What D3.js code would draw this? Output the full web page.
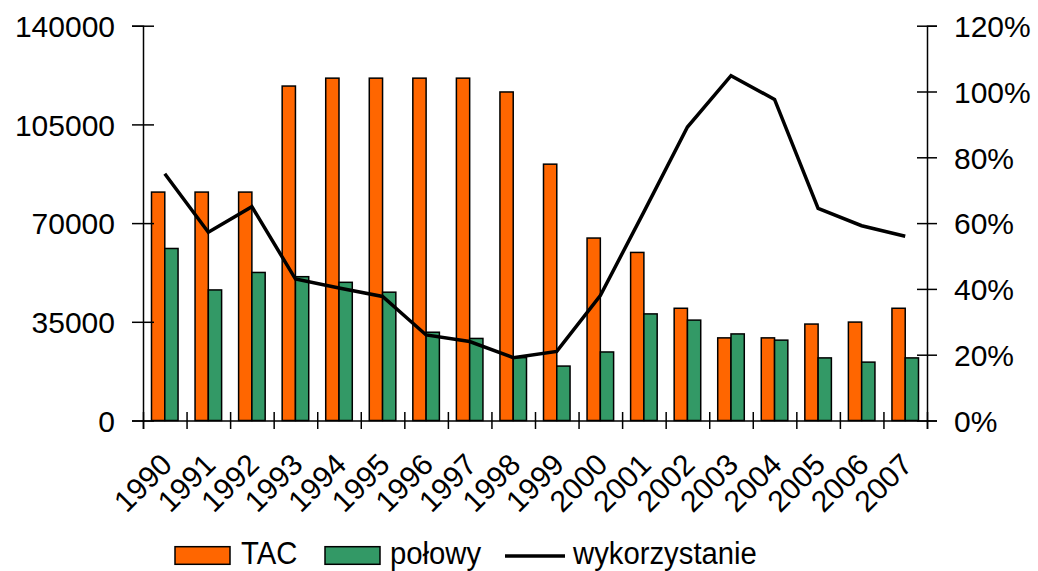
<!DOCTYPE html>
<html>
<head>
<meta charset="utf-8">
<script src="https://cdn.jsdelivr.net/npm/d3@7"></script>
<style>
  html, body { margin: 0; padding: 0; background: #fff; }
  svg { display: block; font-family: "Liberation Sans", Arial, sans-serif; }
</style>
</head>
<body>
<svg id="chart" width="1038" height="571"></svg>
<script>
// Years on the category axis
const years = ["1990","1991","1992","1993","1994","1995","1996","1997","1998",
               "1999","2000","2001","2002","2003","2004","2005","2006","2007"];
// Total allowable catch (t)
const tac = [81000, 81000, 81000, 118600, 121400, 121400, 121400, 121400, 116500,
             90900, 64700, 59600, 39800, 29300, 29300, 34200, 34900, 39800];
// Catches (t)
const polowy = [61000, 46300, 52500, 51000, 49000, 45500, 31300, 29100, 22300,
                19300, 24300, 37800, 35600, 30700, 28500, 22200, 20700, 22200];
// Utilisation of the TAC (share)
const wykorzystanie = [0.750, 0.572, 0.650, 0.430, 0.403, 0.377, 0.260, 0.240, 0.191,
                       0.210, 0.380, 0.634, 0.892, 1.048, 0.976, 0.645, 0.592, 0.560];
// Axis tick values
const leftTicks = [0, 35000, 70000, 105000, 140000];
const rightTicks = [0, 0.2, 0.4, 0.6, 0.8, 1.0, 1.2];

const svg = d3.select("#chart");
const plotLeft = 143, plotRight = 927, plotTop = 25.7, plotBottom = 420.5;
const tickFont = 30;

const x0 = d3.scaleBand().domain(years).range([plotLeft, plotRight]).padding(0);
const x1 = d3.scaleBand().domain(["tac", "polowy"]).range([0, x0.bandwidth()])
  .paddingInner(0).paddingOuter(0.64);
const yL = d3.scaleLinear().domain([0, 140000]).range([plotBottom, plotTop]);
const yR = d3.scaleLinear().domain([0, 1.2]).range([plotBottom, plotTop]);
const xEdges = d3.scaleLinear().domain([0, years.length]).range([plotLeft, plotRight]);

// Bars
const groups = svg.append("g").selectAll("g").data(years).join("g")
  .attr("transform", d => `translate(${x0(d)},0)`);
groups.append("rect")
  .attr("x", x1("tac")).attr("width", x1.bandwidth())
  .attr("y", (d, i) => yL(tac[i])).attr("height", (d, i) => plotBottom - yL(tac[i]))
  .attr("fill", "#FF6600").attr("stroke", "#000").attr("stroke-width", 1.5);
groups.append("rect")
  .attr("x", x1("polowy")).attr("width", x1.bandwidth())
  .attr("y", (d, i) => yL(polowy[i])).attr("height", (d, i) => plotBottom - yL(polowy[i]))
  .attr("fill", "#339966").attr("stroke", "#000").attr("stroke-width", 1.5);

// Utilisation line
const line = d3.line()
  .x((d, i) => x0(years[i]) + x0.bandwidth() / 2)
  .y(d => yR(d));
svg.append("path").datum(wykorzystanie)
  .attr("d", line).attr("fill", "none")
  .attr("stroke", "#000").attr("stroke-width", 3.5).attr("stroke-linejoin", "miter");

// Left axis
const gL = svg.append("g").attr("transform", `translate(${plotLeft},0)`)
  .call(d3.axisLeft(yL).tickValues(leftTicks).tickSize(11).tickFormat(d3.format("d")));
gL.select(".domain").attr("stroke-width", 1.5);
gL.selectAll(".tick line").attr("x1", 11).attr("stroke-width", 1.5);
gL.selectAll(".tick text")
  .attr("font-size", tickFont).attr("fill", "#000")
  .attr("x", -28).attr("dy", "0.36em");

// Right axis
const gR = svg.append("g").attr("transform", `translate(${plotRight},0)`)
  .call(d3.axisRight(yR).tickValues(rightTicks).tickSize(10).tickFormat(d3.format(".0%")));
gR.select(".domain").attr("stroke-width", 1.5);
gR.selectAll(".tick line").attr("x1", -10).attr("stroke-width", 1.5);
gR.selectAll(".tick text")
  .attr("font-size", tickFont).attr("fill", "#000")
  .attr("x", 27).attr("dy", "0.36em");

// Bottom axis: line with crossing ticks at category edges
const gB = svg.append("g").attr("transform", `translate(0,${plotBottom})`)
  .call(d3.axisBottom(xEdges).tickValues(d3.range(years.length + 1)).tickSize(8.5).tickFormat(""));
gB.select(".domain").attr("stroke-width", 1.5);
gB.selectAll(".tick line").attr("y1", -8.5).attr("stroke-width", 1.5);

// Year labels, rotated
const gY = svg.append("g").attr("transform", `translate(0,${plotBottom})`)
  .call(d3.axisBottom(x0).tickSize(0));
gY.select(".domain").remove();
gY.selectAll(".tick text")
  .attr("font-size", tickFont).attr("fill", "#000")
  .attr("text-anchor", "end").attr("x", 0).attr("y", 0).attr("dy", 0)
  .attr("transform", "translate(9,46) rotate(-45)");

// Legend (condensed lettering)
const legend = svg.append("g");
const sx = 0.93;
const legendText = (x, label) => legend.append("text")
  .attr("font-size", 31.5)
  .attr("transform", `translate(${x},564) scale(${sx},1)`)
  .text(label);
legend.append("rect").attr("x", 175).attr("y", 546.7).attr("width", 55).attr("height", 17.6)
  .attr("fill", "#FF6600").attr("stroke", "#000").attr("stroke-width", 1.5);
legendText(241, "TAC");
legend.append("rect").attr("x", 325).attr("y", 546.7).attr("width", 55).attr("height", 17.6)
  .attr("fill", "#339966").attr("stroke", "#000").attr("stroke-width", 1.5);
legendText(390, "połowy");
legend.append("line").attr("x1", 505).attr("x2", 565).attr("y1", 556).attr("y2", 556)
  .attr("stroke", "#000").attr("stroke-width", 3.5);
legendText(573, "wykorzystanie");
</script>
</body>
</html>
